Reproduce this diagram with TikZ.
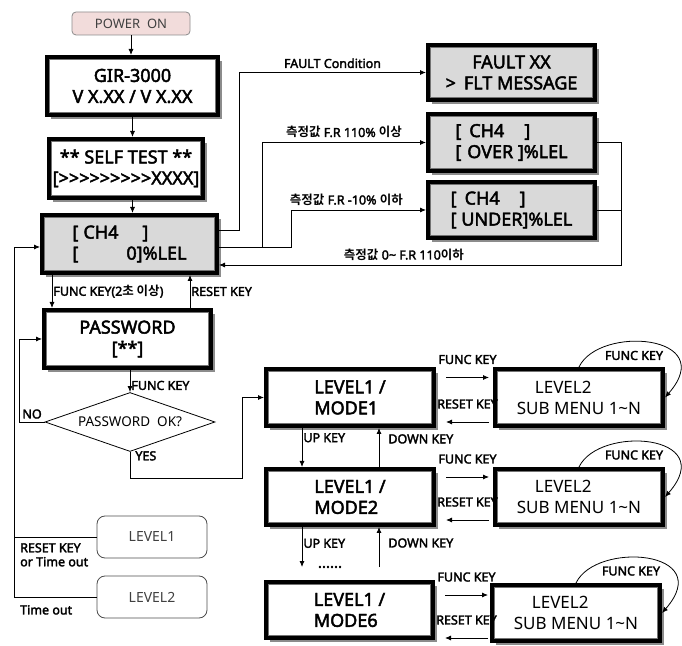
\documentclass[tikz,border=0pt]{standalone}
\usepackage{fontspec}
\setmainfont{Noto Sans}[AutoFakeBold=2.5]
\newfontfamily\kr{Noto Sans CJK KR}[BoldFont={Noto Sans CJK KR Bold}]
\usetikzlibrary{arrows.meta,shapes.geometric,shadows}
\definecolor{pwrpink}{HTML}{F2DCDB}
\definecolor{lcdgray}{HTML}{D9D9D9}

\tikzset{
  lcd/.style={draw=black, line width=4pt, fill=white, inner sep=0pt, align=center,
    font=\fontsize{18}{21}\selectfont\bfseries,
    drop shadow={shadow xshift=4pt, shadow yshift=-4pt, fill=black!45, opacity=1}},
  lcdg/.style={lcd, fill=lcdgray},
  lbl/.style={font=\fontsize{12.5}{14}\selectfont\bfseries, inner sep=1pt},
  arr/.style={-{Latex[length=6pt,width=5pt]}, line width=0.8pt},
  rbox/.style={draw=black!70, rounded corners=8pt, line width=0.8pt, minimum width=110pt,
    minimum height=42pt, font=\fontsize{14}{16}\selectfont, text=black!75},
}

\begin{document}
\begin{tikzpicture}[x=1pt,y=1pt]
\useasboundingbox (0,0) rectangle (682,645);
% start-up screens
\node[draw=black!45, fill=pwrpink, rounded corners=4pt, line width=0.8pt, minimum width=118pt,
  minimum height=23pt, text=black!75, font=\fontsize{13}{15}\selectfont] (pwr) at (131,621.5) {POWER\ \ ON};
\node[lcd, minimum width=171pt, minimum height=58pt] (gir) at (132.5,559) {GIR-3000\\V X.XX / V X.XX};
\node[lcd, minimum width=154pt, minimum height=59pt] (self) at (126,476.5)
  {** SELF TEST **\\{[}>{}>{}>{}>{}>{}>{}>{}>{}>{}XXXX{]}};
\node[lcdg, minimum width=175pt, minimum height=58pt, align=left] (ch4) at (129.5,401)
  {[\hspace{5pt}CH4\hspace{24pt}]\\{[}\hspace{48pt}0]\%LEL};
\node[lcdg, minimum width=167pt, minimum height=55pt] (fault) at (511.5,572.5) {FAULT XX\\>\hspace{8pt}FLT MESSAGE};
\node[lcdg, minimum width=167pt, minimum height=57pt, align=left] (over) at (511.5,502.5)
  {[\hspace{8pt}CH4\hspace{20pt}]\\{[}\hspace{6pt}OVER ]\%LEL};
\node[lcdg, minimum width=167pt, minimum height=56pt, align=left] (under) at (511.5,435)
  {[\hspace{8pt}CH4\hspace{20pt}]\\{[} UNDER]\%LEL};
\node[lcd, minimum width=167pt, minimum height=58pt] (pw) at (127.5,306) {PASSWORD\\{[}**]};
\node[draw, diamond, aspect=2.88, minimum width=170pt, minimum height=59pt, inner sep=0pt,
  line width=0.8pt, font=\fontsize{13.5}{16}\selectfont] (dia) at (130,223) {PASSWORD\ \ OK?};
% menu screens
\node[lcd, minimum width=168pt, minimum height=57pt, align=left] (m1) at (350,247.5) {LEVEL1 /\\MODE1};
\node[lcd, minimum width=168pt, minimum height=56pt, align=left] (m2) at (350,148) {LEVEL1 /\\MODE2};
\node[lcd, minimum width=167pt, minimum height=56pt, align=left] (m6) at (349.5,35) {LEVEL1 /\\MODE6};
\node[lcd, minimum width=168pt, minimum height=57pt, align=left, font=\fontsize{17}{21}\selectfont] (s1) at (579,247.5)
  {\hspace*{18pt}LEVEL2\\SUB MENU 1\textasciitilde N};
\node[lcd, minimum width=168pt, minimum height=56pt, align=left, font=\fontsize{17}{21}\selectfont] (s2) at (579,148)
  {\hspace*{18pt}LEVEL2\\SUB MENU 1\textasciitilde N};
\node[lcd, minimum width=168pt, minimum height=56pt, align=left, font=\fontsize{17}{21}\selectfont] (s3) at (576,32)
  {\hspace*{18pt}LEVEL2\\SUB MENU 1\textasciitilde N};
\node[rbox] (lv1) at (152,108) {LEVEL1};
\node[rbox] (lv2) at (152,48) {LEVEL2};
% inner frame of the display boxes
\foreach \n in {gir,self,ch4,fault,over,under,pw,m1,m2,m6,s1,s2,s3}
  \draw[black!55, line width=1pt] ([shift={(4.5pt,4.5pt)}]\n.south west) rectangle ([shift={(-4.5pt,-4.5pt)}]\n.north east);

\coordinate (c1) at (239,0);
\coordinate (c2) at (262,0);
\coordinate (c3) at (291,0);
\coordinate (c4) at (621,380);
\coordinate (lft) at (14,398);
\coordinate (fk) at (52,0);
\coordinate (rk) at (190,0);
\coordinate (yc) at (242,167);
\coordinate (up) at (302,0);
\coordinate (dn) at (379,0);
\coordinate (gap) at (0,78);

\draw[arr] (pwr.south) -- (pwr.south |- gir.north);
\draw[arr] (gir.south) -- (gir.south |- self.north);
\draw[arr] (gir.south |- self.south) -- (gir.south |- ch4.north);
\draw[arr] ([yshift=14pt]ch4.east) -| (c1 |- fault.west) -- node[lbl,above=3pt]{FAULT Condition} (fault.west);
\draw[arr] ([yshift=-3pt]ch4.east) -| (c2 |- over.west) -- node[lbl,above=3pt]{{\kr 측정값} F.R 110\% {\kr 이상}} (over.west);
\draw[arr] ([yshift=-3pt]ch4.east) -| (c3 |- under.west) -- node[lbl,above=3pt,pos=0.41]{{\kr 측정값} F.R -10\% {\kr 이하}} (under.west);
\draw[arr] (over.east) -| (c4) -- node[lbl,above=3pt,pos=0.54]{{\kr 측정값} 0\textasciitilde{} F.R 110{\kr 이하}} (c4 -| ch4.east);
\draw[line width=0.8pt] (under.east) -- (under.east -| c4);

\draw[arr] (ch4.south -| fk) -- node[lbl,right]{FUNC KEY(2{\kr 초 이상})} (pw.north -| fk);
\draw[arr] (pw.north -| rk) -- node[lbl,right]{RESET KEY} (ch4.south -| rk);
\draw[arr] (pw.south -| dia.north) -- node[lbl,right,pos=0.7]{FUNC KEY} (dia.north);
\draw[arr] (dia.west) -- node[lbl,above=2pt]{NO} ++(-25,0) |- (pw.west);
\draw[arr] (dia.south) -- node[lbl,right=4pt,pos=0.15]{YES} (dia.south |- yc) -- (yc) |- (m1.west);

\draw[arr] (lv2.west) -| (lft) -- (lft -| ch4.west);
\draw[line width=0.8pt] (lv1.west) -- (lv1.west -| lft);
\node[lbl, align=left, anchor=north west] (rto) at (19,103) {RESET KEY\\or Time out};
\node[lbl, anchor=north west] (to) at (19,41) {Time out};

\foreach \m/\fy/\ry in {m1/20/-24.5, m2/20/-23, m6/15/-28} {
  \draw[arr] ([shift={(10pt,\fy pt)}]\m.east) -- node[lbl,above=12pt]{FUNC KEY} ++(43,0);
  \draw[arr] ([shift={(53pt,\ry pt)}]\m.east) -- node[lbl,above=12pt]{RESET KEY} ++(-43,0);
}
\draw[arr] (m1.south -| up) -- node[lbl,right,pos=0.25]{UP KEY} (m2.north -| up);
\draw[arr] (m2.north -| dn) -- node[lbl,right=8pt,pos=0.72]{DOWN KEY} (m1.south -| dn);
\draw[arr] (m2.south -| up) -- node[lbl,right,pos=0.41]{UP KEY} (gap -| up);
\draw[arr] (gap -| dn) -- node[lbl,right=8pt,pos=0.6]{DOWN KEY} (m2.south -| dn);
\node[font=\fontsize{15}{15}\selectfont\bfseries] (dots) at (330,78) {......};

\foreach \s in {s1,s2,s3} {
  \draw[arr] (\s.north) .. controls +(20,42) and +(55,63) .. (\s.east);
  \node[lbl] (\s-fk) at ([shift={(55pt,42pt)}]\s.center) {FUNC KEY};
}
\end{tikzpicture}
\end{document}
